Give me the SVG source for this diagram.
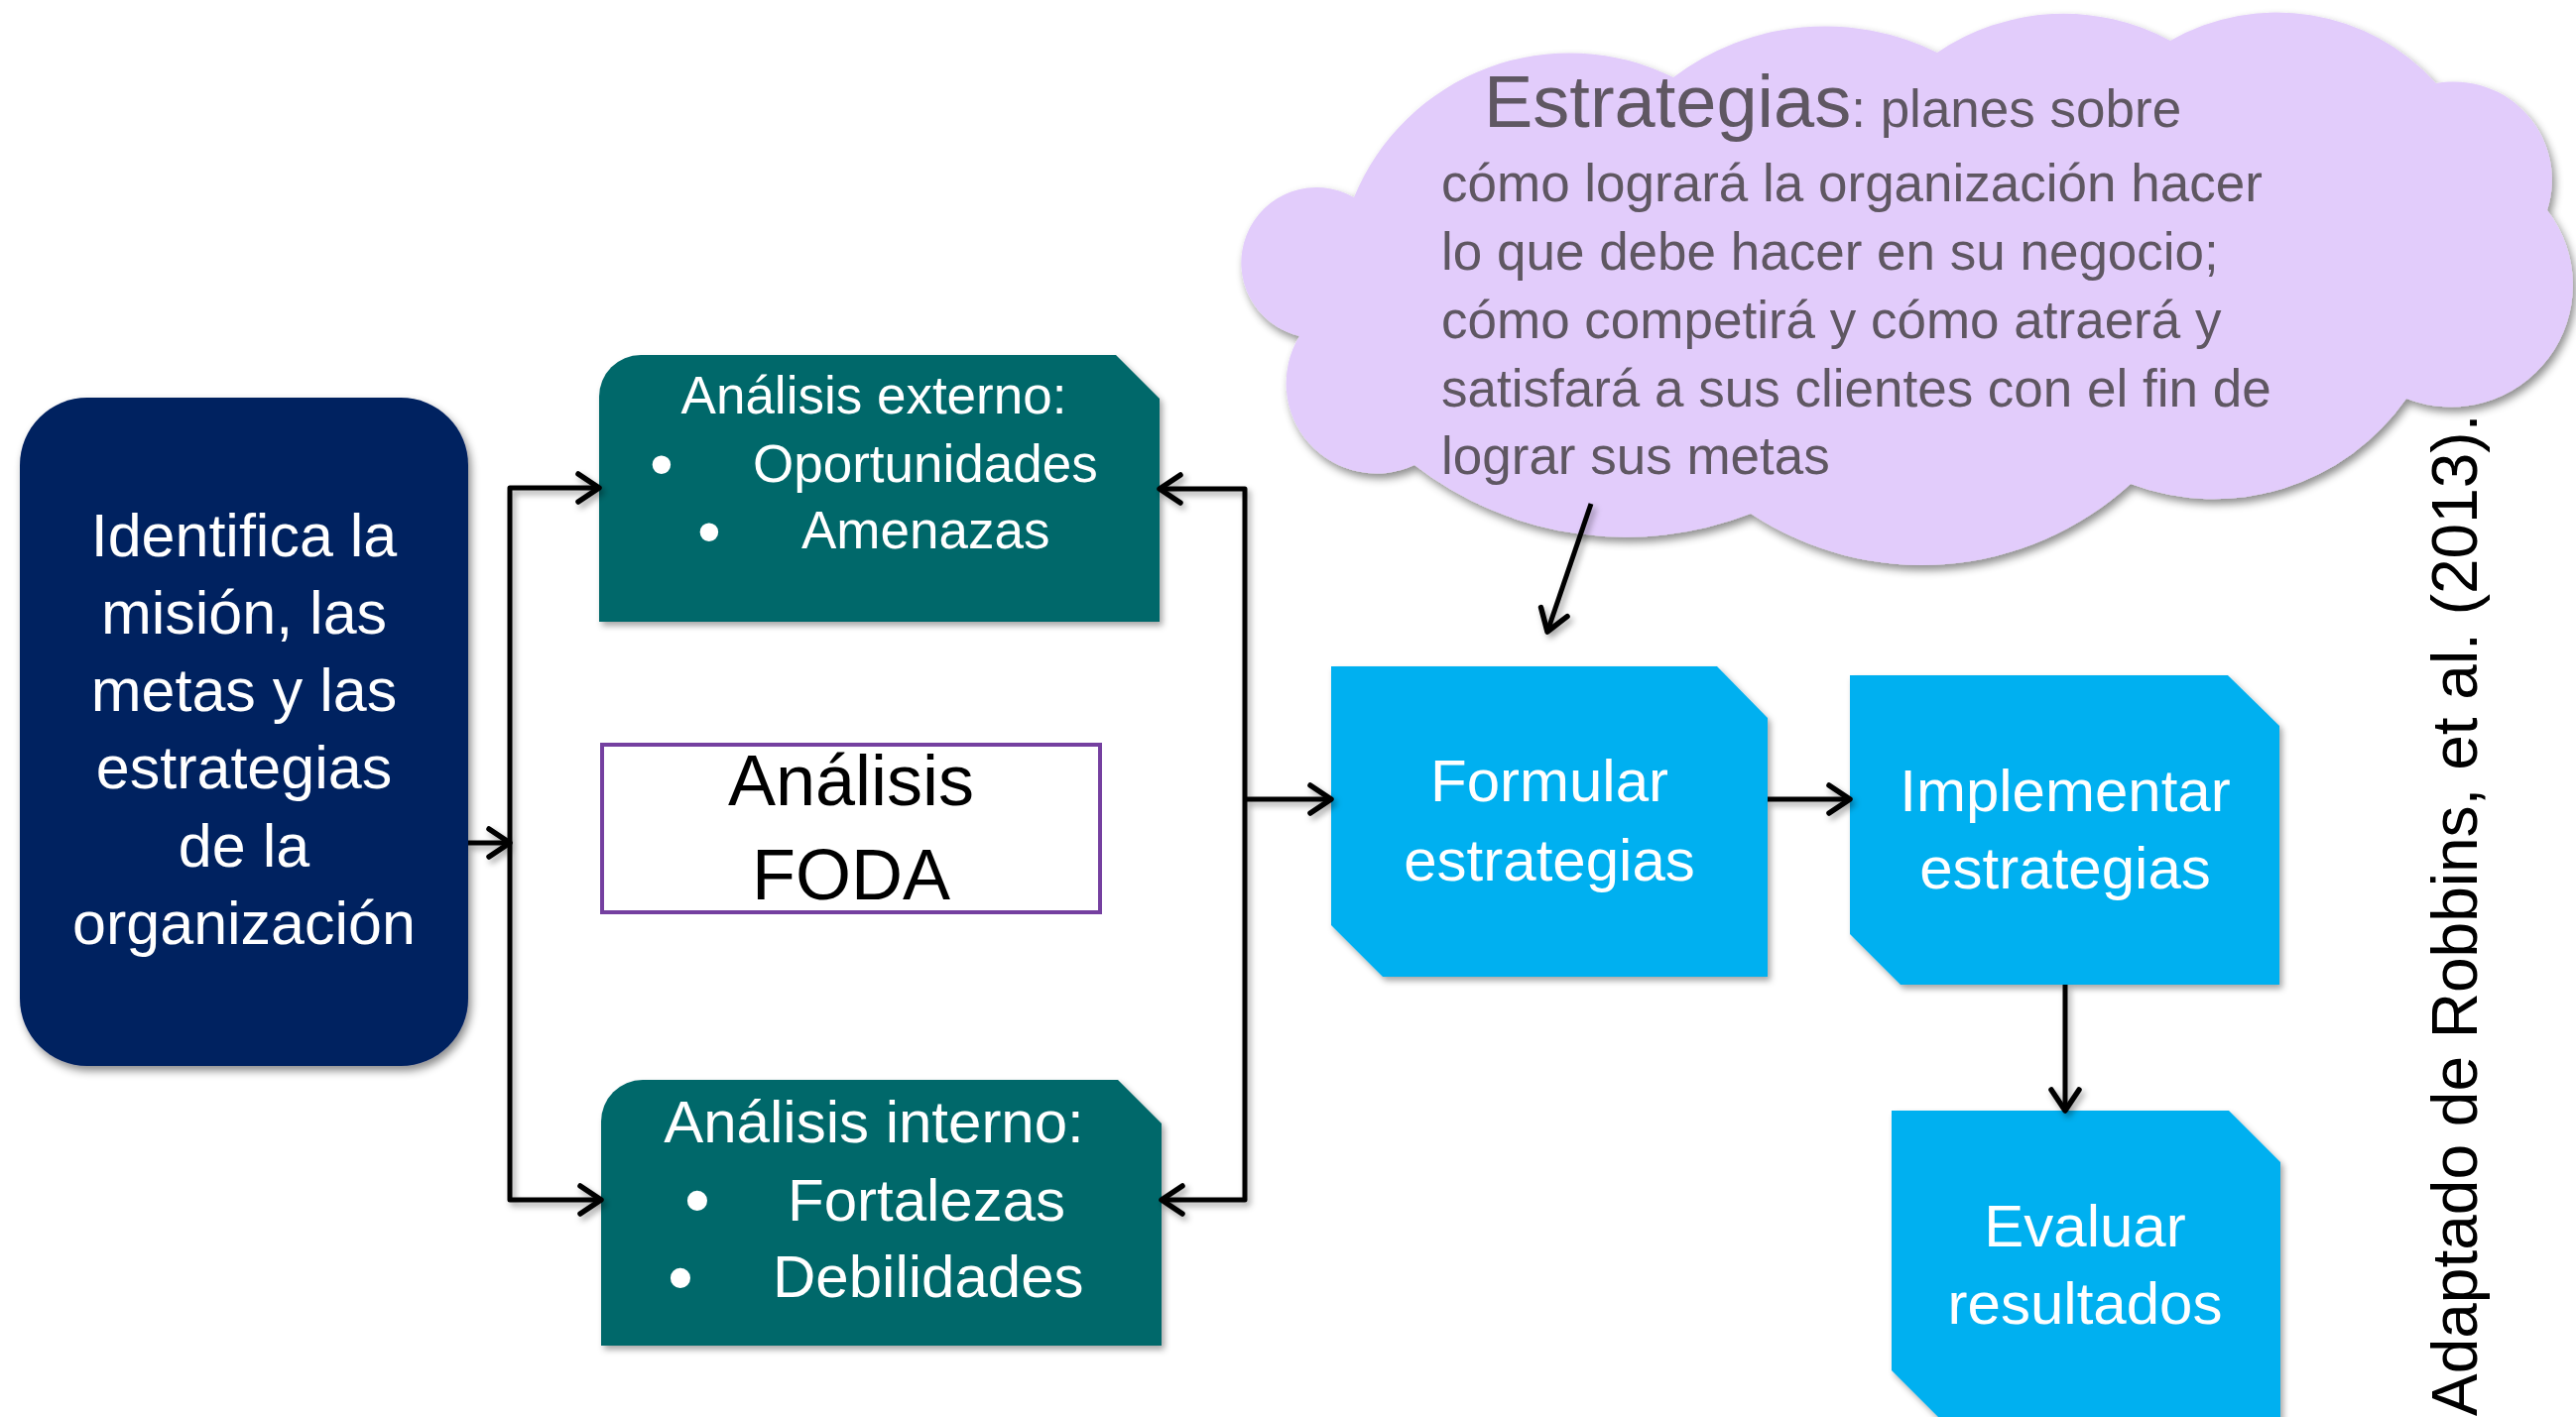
<svg xmlns="http://www.w3.org/2000/svg" width="2597" height="1429" viewBox="0 0 2597 1429">
<style>
text{font-family:"Liberation Sans",Arial,sans-serif}
.w{fill:#fff}
.c{text-anchor:middle}
.conn{fill:none;stroke:#000;stroke-width:5;stroke-linejoin:round}
.cloudtxt{fill:#5F5762;font-size:53px}
</style>
<defs>
<filter id="sh" x="-10%" y="-10%" width="130%" height="130%">
<feDropShadow dx="3" dy="5" stdDeviation="4" flood-color="#000" flood-opacity="0.45"/>
</filter>
<filter id="shl" x="-20%" y="-20%" width="140%" height="140%">
<feDropShadow dx="3" dy="4" stdDeviation="3" flood-color="#000" flood-opacity="0.35"/>
</filter>
<marker id="ar" markerUnits="userSpaceOnUse" markerWidth="44" markerHeight="44" viewBox="-32 -22 44 44" refX="0" refY="0" orient="auto-start-reverse">
<path d="M-21,-14 L0,0 L-21,14" fill="none" stroke="#000" stroke-width="5.5" stroke-linecap="round" stroke-linejoin="round"/>
</marker>
</defs>
<rect width="2597" height="1429" fill="#fff"/>

<g id="cloud">
<path filter="url(#sh)" fill="#E2CCFB" d="M1310,339 A76,76 0 1 1 1365,199 A235,235 0 0 1 1687,78 A253,253 0 0 1 1953,53 A226,226 0 0 1 2188,41 A216,216 0 0 1 2456,84 A99,99 0 0 1 2568,212 A123,123 0 0 1 2426,402 A237,237 0 0 1 2148,488 A312,312 0 0 1 1765,518 A348,348 0 0 1 1426,469 A91,91 0 0 1 1310,339 Z"/>
<text x="1496" y="128" class="cloudtxt"><tspan font-size="74">Estrategias</tspan>: planes sobre</text>
<text x="1453" y="203" class="cloudtxt">cómo logrará la organización hacer</text>
<text x="1453" y="272" class="cloudtxt">lo que debe hacer en su negocio;</text>
<text x="1453" y="341" class="cloudtxt">cómo competirá y cómo atraerá y</text>
<text x="1453" y="410" class="cloudtxt">satisfará a sus clientes con el fin de</text>
<text x="1453" y="478" class="cloudtxt">lograr sus metas</text>
</g>

<g id="mision">
<rect x="20" y="401" width="452" height="674" rx="68" ry="68" fill="#002060" filter="url(#sh)"/>
<g class="w c" font-size="61">
<text x="246" y="561">Identifica la</text>
<text x="246" y="639">misión, las</text>
<text x="246" y="717">metas y las</text>
<text x="246" y="795">estrategias</text>
<text x="246" y="874">de la</text>
<text x="246" y="952">organización</text>
</g>
</g>

<g id="externo">
<path d="M604,627 L604,400 A42,42 0 0 1 646,358 L1125,358 L1169,402 L1169,627 Z" fill="#03686A" filter="url(#shl)"/>
<text x="881" y="417" class="w c" font-size="53">Análisis externo:</text>
<text x="667" y="491" class="w c" font-size="68">•</text>
<text x="759" y="486" class="w" font-size="53">Oportunidades</text>
<text x="715" y="559" class="w c" font-size="68">•</text>
<text x="808" y="553" class="w" font-size="53">Amenazas</text>
</g>

<g id="foda">
<rect x="607" y="751" width="502" height="169" fill="#fff" stroke="#7540A0" stroke-width="4"/>
<text x="858" y="812" class="c" font-size="72" fill="#000">Análisis</text>
<text x="858" y="907" class="c" font-size="72" fill="#000">FODA</text>
</g>

<g id="interno">
<path d="M606,1357 L606,1131 A42,42 0 0 1 648,1089 L1127,1089 L1171,1133 L1171,1357 Z" fill="#03686A" filter="url(#shl)"/>
<text x="881" y="1152" class="w c" font-size="60">Análisis interno:</text>
<text x="703" y="1236" class="w c" font-size="74">•</text>
<text x="794" y="1231" class="w" font-size="60">Fortalezas</text>
<text x="686" y="1314" class="w c" font-size="74">•</text>
<text x="779" y="1308" class="w" font-size="60">Debilidades</text>
</g>

<g id="formular">
<path d="M1342,672 L1731,672 L1782,724 L1782,985 L1394,985 L1342,933 Z" fill="#00B0F0" filter="url(#shl)"/>
<text x="1562" y="808" class="w c" font-size="60">Formular</text>
<text x="1562" y="888" class="w c" font-size="60">estrategias</text>
</g>

<g id="implementar">
<path d="M1865,681 L2246,681 L2298,732 L2298,993 L1916,993 L1865,942 Z" fill="#00B0F0" filter="url(#shl)"/>
<text x="2082" y="818" class="w c" font-size="60">Implementar</text>
<text x="2082" y="896" class="w c" font-size="60">estrategias</text>
</g>

<g id="evaluar">
<path d="M1907,1120 L2247,1120 L2299,1172 L2299,1440 L1965,1440 L1907,1382 Z" fill="#00B0F0" filter="url(#shl)"/>
<text x="2102" y="1257" class="w c" font-size="60">Evaluar</text>
<text x="2102" y="1335" class="w c" font-size="60">resultados</text>
</g>

<g id="connectors" filter="url(#shl)">
<path class="conn" d="M472,850 L514,850" marker-end="url(#ar)"/>
<path class="conn" d="M604,492 L514,492 L514,1210 L606,1210" marker-start="url(#ar)" marker-end="url(#ar)"/>
<path class="conn" d="M1169,493 L1255,493 L1255,1210 L1171,1210" marker-start="url(#ar)" marker-end="url(#ar)"/>
<path class="conn" d="M1255,806 L1342,806" marker-end="url(#ar)"/>
<path class="conn" d="M1782,806 L1865,806" marker-end="url(#ar)"/>
<path class="conn" d="M2082,993 L2082,1120" marker-end="url(#ar)"/>
<path class="conn" d="M1604,508 L1560,637" marker-end="url(#ar)"/>
</g>

<text transform="translate(2497,1428) rotate(-90)" font-size="64" fill="#000">Adaptado de Robbins, et al. (2013).</text>
</svg>
